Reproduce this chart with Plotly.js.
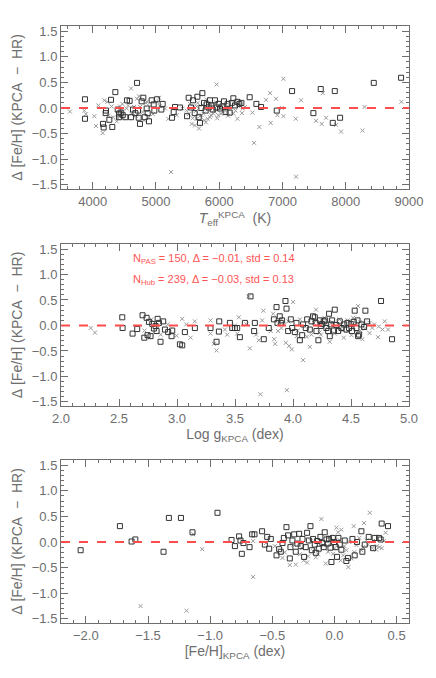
<!DOCTYPE html>
<html>
<head>
<meta charset="utf-8">
<script src="https://cdn.plot.ly/plotly-3.0.1.min.js"></script>
<style>
  html, body { margin: 0; padding: 0; background: #fff; }
  #graph { width: 436px; height: 678px; }
</style>
</head>
<body>
<div id="graph"></div>
<script>
// panel 1: Teff vs delta
var teffSq = [3879,3879,4164,4174,4211,4206,4264,4290,4311,4359,4396,4417,4417,4443,4475,4517,4543,4585,4607,4638,
  4675,4702,4717,4728,4748,4775,4801,4823,4854,4870,4891,4933,4965,4975,5018,5086,5107,5255,5281,5302,
  5381,5492,5518,5555,5586,5613,5655,5676,5697,5718,5734,5760,5786,5802,5834,5855,5876,5897,5934,5960,
  5992,6013,6050,6076,6102,6135,6166,6198,6224,6250,6288,6319,6351,6482,6588,6662,6910,7152,7489,7605,
  7795,7827,7911,8443,8875];
var dTeffSq = [0.17,-0.21,-0.31,-0.38,-0.05,-0.10,-0.23,0.16,-0.37,0.31,-0.03,-0.11,-0.18,-0.09,-0.14,-0.18,0.15,0.14,-0.18,-0.03,
  -0.10,0.49,-0.05,-0.19,-0.31,0.13,0.20,-0.18,-0.01,-0.10,-0.26,0.15,0.07,-0.05,0.17,-0.03,0.08,-0.19,-0.08,0.02,
  0.01,-0.16,0.20,0.01,0.15,-0.10,0.22,-0.18,-0.29,0.00,0.29,0.10,-0.05,0.07,0.01,0.15,0.05,-0.03,0.15,0.01,
  0.08,-0.01,0.03,0.13,-0.08,0.08,-0.09,0.10,0.19,0.05,0.12,0.08,0.10,0.21,0.08,0.02,-0.05,0.33,-0.10,0.37,
  -0.29,0.33,-0.19,0.49,0.59];
var teffX = [3642,3869,3895,4027,4053,4090,4159,4185,4232,4327,4380,4470,4607,4654,4733,4812,4886,5012,5049,5144,
  5197,5239,5329,5418,5566,5618,5645,5681,5723,5765,5818,5855,5908,5960,5987,6029,6093,6288,6372,6525,
  6551,6635,6740,6804,6814,6899,6920,6989,7015,7015,7210,7215,7294,7531,7621,7637,7689,7848,7927,8264,
  8296,8880,5487,5539,5645,5750,5802,5934,6040,6171,6224,6303,6409,4749,4854,4538,4433,4612,4907,
  5520,5580,5600,5630,5660,5700,5740,5780,5790,5830,5870,5890,5920,5950,5970,6000,6060,6110,6140,6190,
  6260,6330,6360,4250,4300,4400,4480,4560,4680,4700,4790,4840,4950,5060];
var dTeffX = [-0.07,-0.05,-0.12,-0.16,-0.35,0.05,-0.49,0.15,0.12,-0.18,-0.26,0.08,0.38,0.02,0.23,-0.24,-0.18,0.12,0.20,-0.01,
  -0.21,-1.25,-0.14,-0.01,-0.31,-0.34,-0.21,-0.40,-0.14,-0.24,-0.21,-0.18,-0.11,0.46,-0.14,-0.11,-0.05,-0.21,-0.01,-0.09,
  -0.68,-0.37,0.16,0.29,-0.29,0.18,-0.14,0.00,0.57,-0.16,-0.21,-1.34,0.15,-0.25,-0.31,0.29,-0.19,-0.33,-0.46,-0.44,
  0.02,0.12,-0.05,0.08,0.03,-0.11,0.17,-0.08,0.02,-0.01,-0.11,0.03,0.02,0.02,0.12,-0.01,0.03,-0.11,0.03,
  -0.12,-0.20,0.02,-0.06,0.10,-0.15,0.06,-0.02,-0.28,0.09,-0.14,0.05,-0.04,0.11,-0.20,0.03,-0.07,0.06,-0.15,0.01,
  -0.05,0.06,-0.10,-0.15,0.03,-0.20,-0.05,0.05,-0.15,0.18,-0.08,0.10,-0.12,0.04];

// panel 2: log g vs delta
var loggSq = [2.528,2.531,2.617,2.657,2.703,2.718,2.738,2.746,2.758,2.772,2.787,2.801,2.815,2.824,2.833,2.844,2.858,2.881,2.896,2.924,
  2.953,2.959,3.025,3.045,3.068,3.154,3.289,3.341,3.361,3.364,3.456,3.476,3.499,3.519,3.542,3.585,3.634,3.665,3.671,3.748,
  3.791,3.835,3.858,3.866,3.886,3.895,3.906,3.935,3.944,3.958,3.981,3.993,4.016,4.030,4.059,4.079,4.087,4.110,4.122,4.145,
  4.159,4.173,4.188,4.196,4.202,4.219,4.231,4.239,4.251,4.265,4.277,4.288,4.303,4.311,4.317,4.326,4.337,4.354,4.360,4.374,
  4.389,4.403,4.418,4.438,4.461,4.469,4.483,4.498,4.509,4.524,4.532,4.547,4.556,4.561,4.570,4.590,4.613,4.624,4.639,4.759,4.854];
var dLoggSq = [0.16,-0.05,-0.16,-0.07,0.20,-0.24,0.15,-0.19,0.07,-0.21,0.03,-0.06,-0.01,-0.11,0.13,0.05,-0.32,0.08,-0.08,-0.13,
  -0.21,-0.10,-0.37,-0.39,-0.13,-0.05,-0.05,-0.32,-0.12,0.08,0.05,-0.05,-0.05,-0.05,-0.23,0.05,0.57,-0.11,0.05,-0.27,
  -0.05,0.12,0.36,0.05,0.18,0.05,0.10,0.48,0.33,-0.11,0.12,-0.05,-0.13,0.05,-0.29,-0.19,0.02,-0.05,0.12,-0.08,
  0.08,0.18,0.16,0.05,-0.11,-0.29,0.10,-0.01,0.03,0.08,0.10,-0.05,-0.11,0.23,-0.21,0.02,0.10,-0.10,0.31,0.01,
  -0.11,0.08,-0.05,0.02,-0.08,0.05,-0.05,0.03,-0.11,0.07,0.29,-0.05,0.10,-0.21,-0.18,0.02,-0.03,0.29,0.08,0.48,-0.27];
var loggX = [2.256,2.293,2.996,3.045,3.117,3.154,3.289,3.289,3.318,3.341,3.413,3.433,3.519,3.533,3.599,3.619,3.628,3.682,3.705,3.719,
  3.734,3.745,3.809,3.829,3.838,3.846,3.872,3.924,3.938,3.947,3.967,3.990,4.001,4.032,4.087,4.145,4.159,4.199,4.228,4.317,
  4.409,4.438,4.475,4.504,4.518,4.561,4.581,4.598,4.661,4.684,4.733,4.771,4.791,4.820,
  2.72,2.78,2.86,2.92,3.08,3.50,3.90,3.96,4.04,4.06,4.12,4.18,4.24,4.27,4.30,4.34,4.36,4.40,4.43,4.47,
  4.52,4.55,4.58,4.62,4.66,4.70,4.74];
var dLoggX = [-0.05,-0.14,-0.20,0.13,-0.24,0.08,0.10,-0.16,-0.36,-0.49,-0.08,-0.18,-0.16,0.16,0.02,0.57,-0.45,-0.18,-0.29,-1.35,
  0.10,0.29,-0.11,0.23,-0.27,-0.36,-0.11,0.02,-0.34,-1.27,-0.40,-0.47,0.46,-0.21,-0.68,-0.42,-0.18,0.31,-0.14,-0.32,
  -0.05,-0.24,-0.11,-0.19,0.15,0.38,-0.10,-0.27,0.05,-0.05,-0.23,-0.08,0.08,-0.08,
  -0.10,0.12,-0.18,0.02,0.02,0.00,-0.05,0.08,-0.10,0.12,-0.22,0.05,-0.18,0.15,-0.02,0.06,-0.16,0.12,-0.10,0.10,
  -0.03,-0.14,0.07,-0.06,-0.15,0.02,-0.02];

// panel 3: [Fe/H] vs delta
var fehSq = [-2.042,-1.726,-1.632,-1.602,-1.375,-1.332,-1.235,-1.142,-0.941,-0.828,-0.801,-0.767,-0.756,-0.745,-0.732,-0.683,-0.662,-0.643,-0.582,-0.560,
  -0.541,-0.525,-0.512,-0.466,-0.445,-0.432,-0.418,-0.407,-0.386,-0.373,-0.359,-0.354,-0.338,-0.324,-0.311,-0.298,-0.284,-0.271,-0.257,-0.244,
  -0.231,-0.220,-0.206,-0.193,-0.182,-0.172,-0.158,-0.150,-0.139,-0.126,-0.113,-0.097,-0.086,-0.078,-0.064,-0.054,-0.043,-0.032,-0.024,-0.013,
  -0.003,0.011,0.021,0.032,0.043,0.056,0.083,0.096,0.110,0.145,0.163,0.182,0.217,0.225,0.244,0.276,0.311,0.324,0.359,0.372,0.380,0.431];
var dFehSq = [-0.16,0.31,0.01,0.05,-0.19,0.47,0.47,0.19,0.57,0.04,-0.08,0.11,0.03,-0.23,-0.02,-0.10,0.15,0.15,0.21,-0.05,
  0.10,-0.13,0.06,-0.26,-0.14,-0.19,-0.02,0.08,0.29,0.13,-0.32,-0.10,0.03,0.15,-0.19,-0.03,0.16,-0.08,0.06,-0.29,
  -0.10,0.18,0.03,0.31,-0.16,0.06,-0.05,-0.21,0.02,-0.13,0.10,-0.02,-0.10,0.19,0.05,-0.03,0.06,-0.11,-0.39,0.08,
  0.00,-0.10,-0.29,0.08,-0.05,-0.15,0.03,-0.37,-0.31,0.06,-0.26,0.00,0.21,-0.19,-0.05,0.10,-0.12,0.08,0.08,0.05,0.36,0.31];
var fehX = [-1.560,-1.190,-1.136,-1.064,-0.654,-0.654,-0.418,-0.359,-0.311,-0.279,-0.247,-0.212,-0.172,-0.131,-0.105,-0.070,-0.051,-0.011,0.016,0.029,
  0.056,0.070,0.096,0.112,0.136,0.155,0.177,0.217,0.238,0.257,0.284,0.305,0.337,0.362,0.412,
  -0.55,-0.48,-0.40,-0.33,-0.26,-0.19,-0.15,-0.09,-0.04,0.00,0.04,0.08,0.12,0.16,0.20,0.23,0.27,0.31,0.34,0.38,
  0.40,-0.22,0.05];
var dFehX = [-1.25,-1.34,0.15,-0.14,-0.68,0.02,-0.31,-0.45,-0.44,-0.24,-0.36,-0.28,-0.18,-0.24,0.45,-0.42,-0.19,-0.23,0.28,0.19,
  0.24,-0.26,-0.16,-0.49,-0.32,0.31,-0.06,-0.16,0.37,0.03,0.57,-0.12,-0.15,-0.10,0.18,
  -0.02,-0.08,-0.20,-0.05,-0.12,0.02,-0.30,-0.06,0.10,-0.12,0.04,-0.08,0.00,-0.20,0.08,-0.10,-0.05,0.02,-0.08,-0.12,
  0.02,-0.40,-0.36];

var xRanges = [[3500, 9000], [2.0, 5.0], [-2.2, 0.6]];
var yRange = [-1.58, 1.6];

var grey = '#6e6e6e';
var font = { family: 'Liberation Sans, Arial, sans-serif', size: 13, color: grey };
var titleFont = { family: 'Liberation Sans, Arial, sans-serif', size: 14, color: grey };
var sp = '\u00a0';

function sq(x, y, n) {
    return {
        x: x, y: y, xaxis: 'x' + n, yaxis: 'y' + n,
        type: 'scatter', mode: 'markers', showlegend: false, hoverinfo: 'x+y',
        marker: { symbol: 'square-open', size: 5, color: '#333333', line: { width: 1, color: '#333333' } }
    };
}

function cross(x, y, n) {
    return {
        x: x, y: y, xaxis: 'x' + n, yaxis: 'y' + n,
        type: 'scatter', mode: 'markers', showlegend: false, hoverinfo: 'x+y',
        marker: { symbol: 'x-thin-open', size: 4, color: '#9a9a9a', line: { width: 1, color: '#9a9a9a' } }
    };
}

var data = [
    cross(teffX, dTeffX, ''), sq(teffSq, dTeffSq, ''),
    cross(loggX, dLoggX, '2'), sq(loggSq, dLoggSq, '2'),
    cross(fehX, dFehX, '3'), sq(fehSq, dFehSq, '3')
];

function xax(range, dtick, minor, fmt, title, anchor) {
    return {
        range: range, dtick: dtick, tick0: 0, anchor: anchor, tickformat: fmt,
        ticks: 'inside', ticklen: 7, tickcolor: grey, mirror: 'ticks',
        showline: true, linecolor: grey, linewidth: 1, showgrid: false, zeroline: false,
        minor: { dtick: minor, ticks: 'inside', ticklen: 3, tickcolor: grey, showgrid: false },
        tickfont: font,
        title: { text: title, font: titleFont, standoff: 4 }
    };
}

function yax(domain, anchor) {
    return {
        domain: domain, range: yRange, dtick: 0.5, tick0: 0, anchor: anchor,
        ticks: 'inside', ticklen: 7, tickcolor: grey, mirror: 'ticks',
        showline: true, linecolor: grey, linewidth: 1, showgrid: false, zeroline: false,
        minor: { dtick: 0.1, ticks: 'inside', ticklen: 3, tickcolor: grey, showgrid: false },
        tickformat: '.1f', tickfont: font,
        title: { text: 'Δ' + sp + '[Fe/H]' + sp + '(KPCA' + sp + sp + '−' + sp + sp + 'HR)', font: titleFont, standoff: 5 }
    };
}

var layout = {
    width: 436, height: 678,
    margin: { l: 61, r: 27, t: 26, b: 55 },
    paper_bgcolor: '#fff', plot_bgcolor: '#fff',
    font: font,
    xaxis: xax(xRanges[0], 1000, 200, 'd', '<i>T</i><sub>eff</sub><sup>KPCA</sup>' + sp + sp + '(K)', 'y'),
    xaxis2: xax(xRanges[1], 0.5, 0.1, '.1f', 'Log' + sp + 'g<sub>KPCA</sub>' + sp + '(dex)', 'y2'),
    xaxis3: xax(xRanges[2], 0.5, 0.1, '.1f', '[Fe/H]<sub>KPCA</sub>' + sp + '(dex)', 'y3'),
    yaxis: yax([0.727, 1.0], 'x'),
    yaxis2: yax([0.3635, 0.635], 'x2'),
    yaxis3: yax([0, 0.273], 'x3'),
    shapes: ['x', 'x2', 'x3'].map(function (ax, i) {
        return {
            type: 'line', xref: ax + ' domain', yref: ['y', 'y2', 'y3'][i],
            x0: 0, x1: 1, y0: 0, y1: 0,
            line: { color: '#ff4d4d', width: 2, dash: 'dash' }
        };
    }),
    annotations: [
        { xref: 'x2', yref: 'y2', x: 2.6, y: 1.3, xanchor: 'left', showarrow: false,
          text: 'N<sub>PAS</sub> = 150, Δ = −0.01, std = 0.14',
          font: { family: font.family, size: 11, color: '#ff5555' } },
        { xref: 'x2', yref: 'y2', x: 2.6, y: 0.9, xanchor: 'left', showarrow: false,
          text: 'N<sub>Hub</sub> = 239, Δ = −0.03, std = 0.13',
          font: { family: font.family, size: 11, color: '#ff5555' } }
    ]
};

Plotly.newPlot('graph', data, layout, { displayModeBar: false, staticPlot: true });
</script>
</body>
</html>
